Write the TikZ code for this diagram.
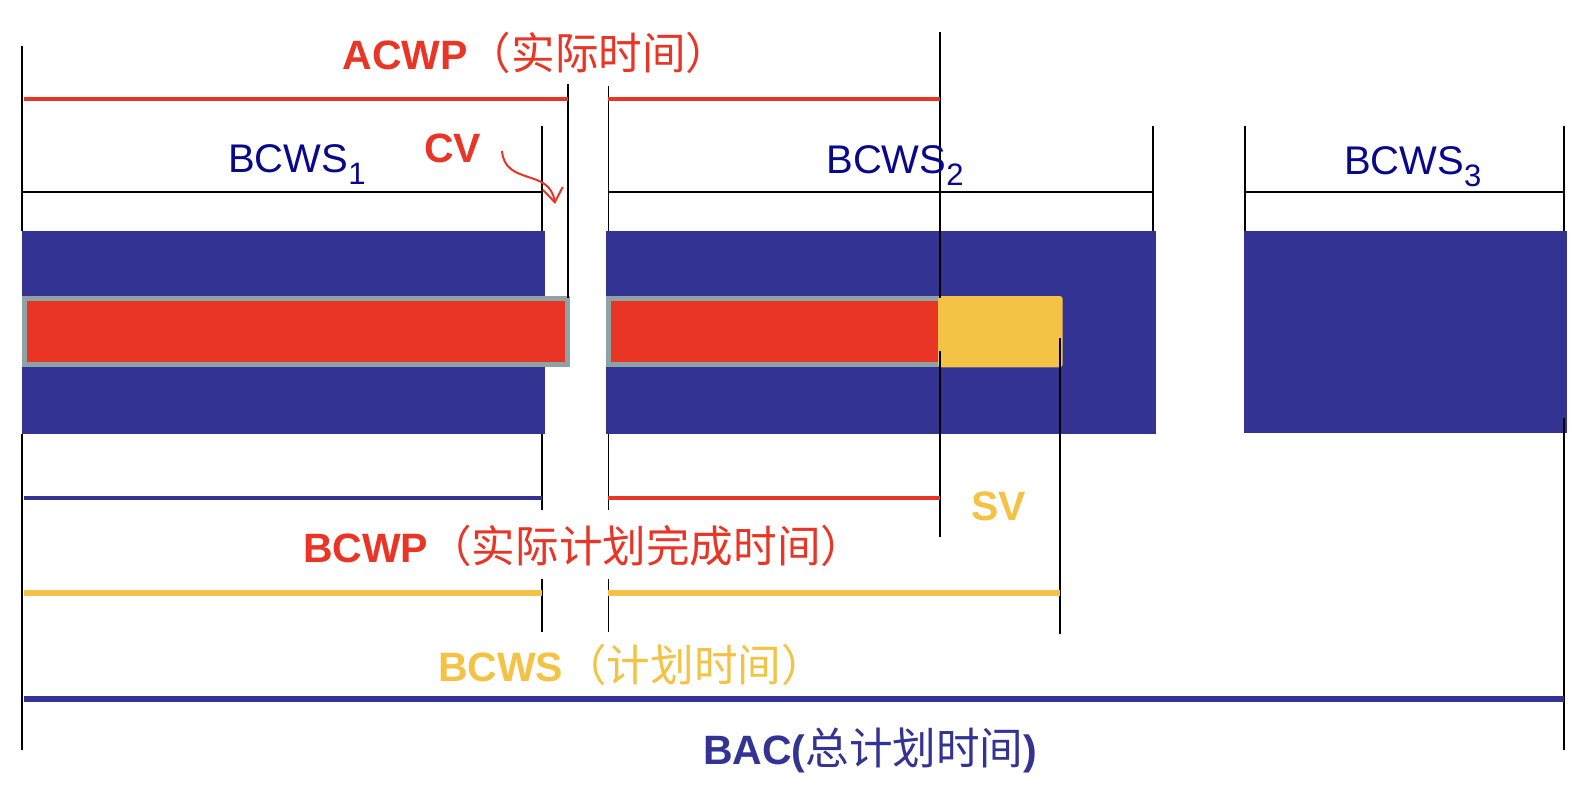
\documentclass[tikz,border=0pt]{standalone}
\usepackage{fontspec}
\setmainfont{Liberation Sans}
\newfontfamily\cjk{Noto Sans CJK SC}
\usetikzlibrary{arrows.meta}
\definecolor{cred}{RGB}{233,53,38}
\definecolor{cyel}{RGB}{244,194,68}
\definecolor{cnavy}{RGB}{51,51,147}
\definecolor{ctxt}{RGB}{8,8,140}
\definecolor{cgray}{RGB}{143,163,166}
\newcommand{\subnum}[1]{\raisebox{-6.2pt}{\fontsize{15.5}{16}\selectfont #1}}
\newcommand{\zh}[1]{{\cjk\fontsize{21.8}{24}\selectfont #1}}
\begin{document}
\begin{tikzpicture}[x=0.5pt,y=-0.5pt,
  vline/.style={black,line width=0.9pt},
  hline/.style={black,line width=0.75pt},
  blockfill/.style={fill=cnavy,draw=none},
  barbox/.style={draw=cgray,fill=cred,line width=2.5pt},
  thinbar/.style={line width=2pt},
  thickbar/.style={line width=3pt},
  lbl/.style={inner sep=0pt,outer sep=0pt,anchor=base west,font=\fontsize{20.5}{24}\selectfont},
  wslbl/.style={inner sep=0pt,outer sep=0pt,anchor=base west,font=\fontsize{20}{24}\selectfont,text=ctxt}
]
\useasboundingbox[fill=white] (0,0) rectangle (1590,804);

% blue blocks
\path[blockfill] (22.3,231) rectangle (545,434);
\path[blockfill] (606.4,231) rectangle (1156,434);
\path[blockfill] (1244,231) rectangle (1566.6,433);

% red bars and yellow SV part
\draw[barbox] (24.8,298.5) rectangle (567.5,364.5);
\draw[barbox] (608.9,298.5) rectangle (945,364.5);
\fill[cyel,rounded corners=1.5pt] (938,296) rectangle (1062.7,367.3);

% vertical marker lines
\draw[vline] (22.3,46) -- (22.3,231);
\draw[vline] (22.3,434) -- (22.3,750);
\draw[vline] (568,84) -- (568,298);
\draw[vline] (608.4,86) -- (608.4,231);
\draw[vline] (608.4,434) -- (608.4,510);
\draw[vline] (608.4,579) -- (608.4,632);
\draw[vline] (542,126) -- (542,231);
\draw[vline] (542,434) -- (542,510);
\draw[vline] (542,579) -- (542,632);
\draw[vline] (940,32.4) -- (940,298);
\draw[vline] (940,351) -- (940,537);
\draw[vline] (1060,338) -- (1060,634);
\draw[vline] (1153,126) -- (1153,231);
\draw[vline] (1245,126) -- (1245,231);
\draw[vline] (1564,126) -- (1564,231);
\draw[vline] (1564,418) -- (1564,750);

% BCWS brackets
\draw[hline] (22.3,192) -- (542,192);
\draw[hline] (608.4,192) -- (1153,192);
\draw[hline] (1245,192) -- (1564,192);

% ACWP lines
\draw[thinbar,cred] (24,99) -- (568,99);
\draw[thinbar,cred] (608.4,99) -- (940,99);

% BCWP lines
\draw[thinbar,cnavy] (24,498) -- (542,498);
\draw[thinbar,cred] (608.4,498) -- (940,498);

% BCWS (plan) lines
\draw[thickbar,cyel] (24,593) -- (542,593);
\draw[thickbar,cyel] (608.4,593) -- (1060,593);

% BAC line
\draw[thickbar,cnavy] (24,698.6) -- (1564,698.6);

% CV arrow
\draw[cred,line width=1pt,-{Straight Barb[length=7pt,width=10pt]}]
  (502,151) .. controls (505,186) and (550,168) .. (555,204);

% labels
\node[lbl,text=cred] (acwp) at (342.7,69) {\textbf{ACWP}\zh{（实际时间）}};
\node[wslbl] (bcws1) at (228.3,172) {BCWS\subnum{1}};
\node[wslbl] (bcws2) at (826.4,173) {BCWS\subnum{2}};
\node[wslbl] (bcws3) at (1344,174) {BCWS\subnum{3}};
\node[lbl,text=cred] (cv) at (424,162.7) {\textbf{CV}};
\node[lbl,text=cred] (bcwp) at (303,562) {\textbf{BCWP}\zh{（实际计划完成时间）}};
\node[lbl,text=cyel] (sv) at (971,520.7) {\textbf{SV}};
\node[lbl,text=cyel] (bcws) at (438,681) {\textbf{BCWS}\zh{（计划时间）}};
\node[lbl,text=cnavy] (bac) at (703,764) {\textbf{BAC(}\zh{总计划时间}\textbf{)}};
\end{tikzpicture}
\end{document}
